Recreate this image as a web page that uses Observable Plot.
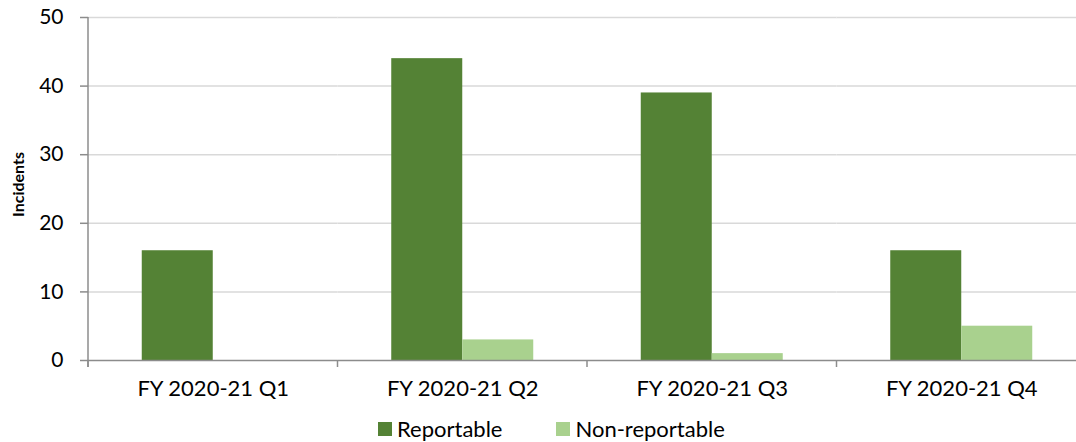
<!DOCTYPE html>
<html>
<head>
<meta charset="utf-8">
<script src="https://cdn.jsdelivr.net/npm/d3@7"></script>
<script src="https://cdn.jsdelivr.net/npm/@observablehq/plot@0.6"></script>
<style>
  html, body { margin: 0; padding: 0; background: #fff; overflow: hidden; width: 1076px; height: 442px; }
  #chart { position: relative; width: 1086px; }
  .legend { position: absolute; top: 415px; left: 378px; display: flex; align-items: center; font-family: Lato, sans-serif; font-size: 22px; color: #000; }
  .legend .item { display: flex; align-items: center; }
  .legend .sw { width: 14px; height: 14px; margin-right: 5px; }
</style>
</head>
<body>
<div id="chart"></div>
<script>
const quarters = ["FY 2020-21 Q1", "FY 2020-21 Q2", "FY 2020-21 Q3", "FY 2020-21 Q4"];
const seriesNames = ["Reportable", "Non-reportable"];
const reportable = [16, 44, 39, 16];
const nonReportable = [0, 3, 1, 5];
const colors = ["#548235", "#a9d18e"];
const yTicks = [0, 10, 20, 30, 40, 50];

const data = [];
quarters.forEach((q, i) => {
  data.push({quarter: q, series: seriesNames[0], value: reportable[i]});
  data.push({quarter: q, series: seriesNames[1], value: nonReportable[i]});
});

const plot = Plot.plot({
  width: 1086,
  height: 410,
  marginLeft: 88,
  marginRight: 0,
  marginTop: 17,
  marginBottom: 50,
  style: {fontFamily: "Lato, sans-serif", fontSize: "22px", color: "#000", background: "#fff"},
  fx: {domain: quarters, padding: 0, round: false, label: null, tickSize: 0, tickPadding: 20},
  x: {domain: seriesNames, paddingInner: 0, paddingOuter: 0.757, round: false, axis: null},
  y: {domain: [0, 50], ticks: yTicks, label: null},
  color: {domain: seriesNames, range: colors},
  marks: [
    Plot.ruleY(yTicks.filter(d => d > 0), {stroke: "#d9d9d9", strokeWidth: 1.5, strokeOpacity: 1}),
    Plot.barY(data, {fx: "quarter", x: "series", y: "value", fill: "series"}),
    Plot.ruleY([0], {stroke: "#8c8c8c", strokeWidth: 1.5}),
    Plot.axisY({ticks: yTicks, tickSize: 8, tickPadding: 17, stroke: "#8c8c8c", strokeWidth: 1.5, label: null, fontSize: 21})
  ]
});

document.getElementById("chart").appendChild(plot);

// axis lines and category boundary ticks drawn from the library's scales
const fx = plot.scale("fx");
const y = plot.scale("y");
const svg = d3.select(plot);
const y0 = y.apply(0), y50 = y.apply(50);
const left = fx.apply(quarters[0]);
svg.append("line").attr("x1", left).attr("x2", left).attr("y1", y50).attr("y2", y0 + 7)
  .attr("stroke", "#8c8c8c").attr("stroke-width", 1.5);
const bounds = quarters.map(q => fx.apply(q)).concat([fx.apply(quarters[quarters.length - 1]) + fx.bandwidth]);
bounds.forEach(b => {
  svg.append("line").attr("x1", b).attr("x2", b).attr("y1", y0).attr("y2", y0 + 7)
    .attr("stroke", "#8c8c8c").attr("stroke-width", 1.5);
});
// y-axis title
svg.append("text")
  .attr("transform", `translate(24, ${(y0 + y50) / 2 - 4}) rotate(-90)`)
  .attr("text-anchor", "middle")
  .attr("font-family", "Lato, sans-serif")
  .attr("font-weight", "bold")
  .attr("font-size", 16)
  .attr("fill", "#000")
  .text("Incidents");

// legend
const legend = d3.select("#chart").append("div").attr("class", "legend");
seriesNames.forEach((s, i) => {
  const it = legend.append("div").attr("class", "item").style("margin-right", i === 0 ? "54px" : "0");
  it.append("div").attr("class", "sw").style("background", colors[i]);
  it.append("span").text(s);
});
</script>
</body>
</html>
